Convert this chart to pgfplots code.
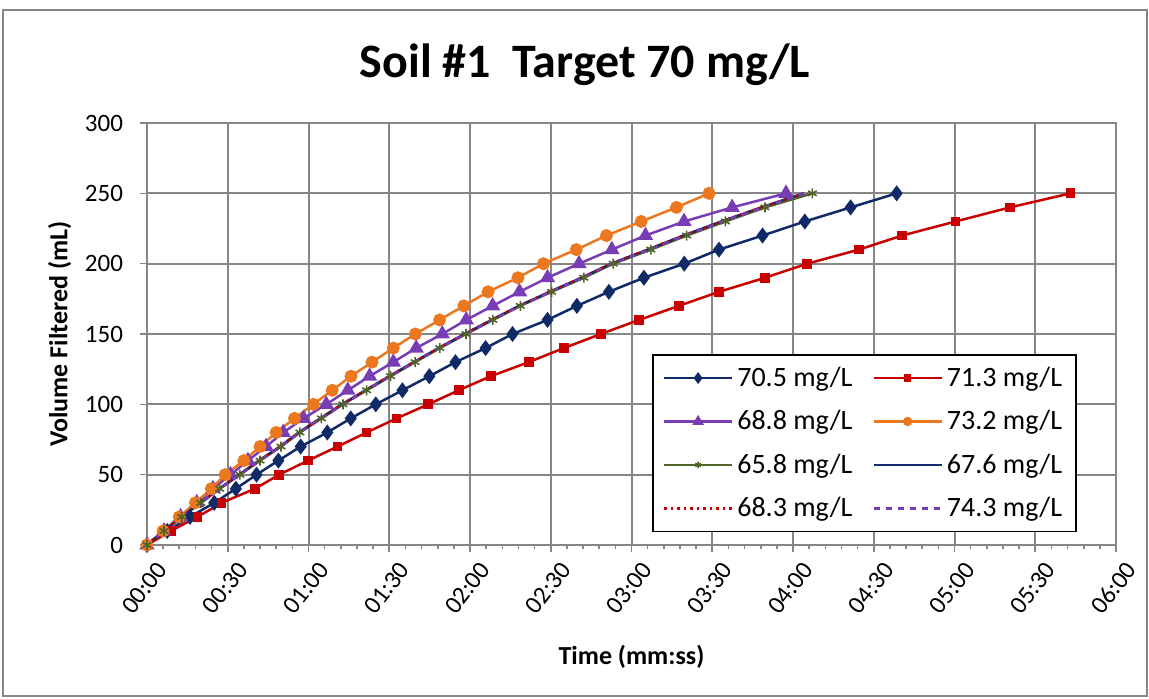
\documentclass[border=0pt]{standalone}
\usepackage{pgfplots}
\pgfplotsset{compat=1.18}
\usepackage{fontspec}
\setmainfont{Carlito}
\definecolor{cnavy}{RGB}{16,42,104}
\definecolor{cred}{RGB}{200,0,0}
\definecolor{cpurple}{RGB}{120,60,180}
\definecolor{corange}{RGB}{235,120,30}
\definecolor{cgreen}{RGB}{80,100,40}
\definecolor{cnavyb}{RGB}{20,45,110}
\definecolor{cgrid}{RGB}{134,134,134}
\begin{document}
\begin{tikzpicture}
\path (-73.5pt,-76.5pt) rectangle (501pt,272.5pt);
\draw[cgrid, line width=0.6pt] (-72pt,-75.5pt) rectangle (500pt,267.5pt);
\node[font=\fontsize{24}{28}\selectfont\bfseries] at (219pt,240pt) {Soil \#1\ \ Target 70 mg/L};
\begin{axis}[
  at={(0pt,0pt)}, anchor=south west,
  scale only axis, width=484.5pt, height=211pt,
  xmin=0, xmax=360, ymin=0, ymax=300,
  xtick={0,30,...,360},
  xticklabels={00:00,00:30,01:00,01:30,02:00,02:30,03:00,03:30,04:00,04:30,05:00,05:30,06:00},
  minor x tick num=4,
  ytick={0,50,...,300},
  grid=major,
  major grid style={cgrid, line width=1pt},
  axis line style={cgrid, line width=1pt},
  every tick/.style={cgrid, line width=0.8pt},
  tick align=outside,
  major tick length=3.5pt, minor tick length=2pt,
  xtick pos=bottom, ytick pos=left,
  /pgf/number format/assume math mode=true,
  tick label style={font=\fontsize{12.5}{14}\selectfont},
  xticklabel style={rotate=52, anchor=east, xshift=3pt, yshift=-10pt},
  yticklabel style={xshift=-5pt},
  xlabel={Time (mm:ss)},
  ylabel={Volume Filtered (mL)},
  label style={font=\fontsize{13}{15}\selectfont\bfseries},
  xlabel style={at={(axis description cs:0.5,-0.265)}, anchor=center},
  ylabel style={at={(axis description cs:-0.09,0.5)}, anchor=center, rotate=0},
  legend columns=2,
  legend style={at={(axis description cs:0.5212,0.4526)}, anchor=north west,
     draw=black, line width=0.8pt, fill=white,
     font=\fontsize{14}{16}\selectfont, row sep=6.5pt,
     inner xsep=5pt, inner ysep=4pt},
  legend cell align=left,
  /tikz/every even column/.append style={column sep=8pt},
  legend image code/.code={\draw[mark repeat=2,mark phase=2,#1,every mark/.append style={scale=0.65}] plot coordinates {(0pt,0pt) (17pt,0pt) (34pt,0pt)};},
]
\addplot[cnavy, line width=1.25pt, mark=diamond*, mark size=3pt] coordinates {
(0,0) (7.5,10) (16.0,20) (25.0,30) (33.0,40) (40.7,50) (48.8,60) (57.1,70) (67.0,80) (75.7,90)
(85.0,100) (94.9,110) (104.9,120) (114.6,130) (125.8,140) (135.8,150) (148.8,160) (159.7,170)
(171.6,180) (184.6,190) (199.6,200) (212.5,210) (228.7,220) (244.4,230) (261.4,240) (278.5,250)};
\addlegendentry{70.5 mg/L}
\addplot[cred, line width=1.25pt, mark=square*, mark size=1.8pt] coordinates {
(0,0) (8.8,10) (18.8,20) (27.7,30) (40.1,40) (49.1,50) (59.8,60) (70.8,70) (81.6,80) (92.7,90)
(104.5,100) (115.8,110) (127.7,120) (141.8,130) (154.9,140) (168.6,150) (182.8,160) (197.6,170)
(212.5,180) (229.6,190) (245.3,200) (264.5,210) (280.5,220) (300.4,230) (320.6,240) (343.1,250)};
\addlegendentry{71.3 mg/L}
\addplot[cpurple, line width=1.25pt, mark=triangle*, mark size=3.2pt] coordinates {
(0,0) (6.3,10) (12.5,20) (18.5,30) (24.5,40) (31.0,50) (37.5,60) (44.2,70) (50.6,80) (58.2,90)
(66.6,100) (74.6,110) (82.7,120) (91.5,130) (100.0,140) (109.7,150) (118.6,160) (128.4,170)
(138.4,180) (148.8,190) (160.5,200) (172.7,210) (185.2,220) (199.5,230) (217.4,240) (237.4,250)};
\addlegendentry{68.8 mg/L}
\addplot[corange, line width=1.25pt, mark=*, mark size=2.6pt] coordinates {
(0,0) (6.0,10) (12.0,20) (18.0,30) (23.9,40) (29.0,50) (36.0,60) (42.0,70) (48.0,80) (54.8,90)
(61.8,100) (68.8,110) (75.8,120) (83.6,130) (91.5,140) (99.7,150) (108.7,160) (117.7,170)
(126.7,180) (137.8,190) (147.3,200) (159.5,210) (170.7,220) (183.6,230) (196.7,240) (208.8,250)};
\addlegendentry{73.2 mg/L}
\addplot[cgreen, line width=1.25pt, mark=asterisk, mark size=2.5pt, mark options={line width=0.8pt}] coordinates {
(0,0) (6.3,10) (12.9,20) (20.0,30) (27.0,40) (34.5,50) (42.0,60) (49.8,70) (56.8,80) (64.8,90)
(72.8,100) (81.6,110) (90.5,120) (99.6,130) (108.8,140) (118.5,150) (128.5,160) (138.7,170)
(150.3,180) (162.3,190) (173.2,200) (187.2,210) (200.5,220) (214.9,230) (229.6,240) (247.2,250)};
\addlegendentry{65.8 mg/L}
\addplot[cnavyb, line width=1.25pt] coordinates {
(0,0) (6.2,10) (12.8,20) (19.8,30) (26.8,40) (34.2,50) (41.6,60) (49.4,70) (56.4,80) (64.4,90)
(72.4,100) (81.2,110) (90.0,120) (99.1,130) (108.3,140) (118.0,150) (128.0,160) (138.2,170)
(149.6,180) (161.4,190) (172.4,200) (186.0,210) (199.3,220) (213.4,230) (228.2,240) (244.0,250)};
\addlegendentry{67.6 mg/L}
\addplot[cred, line width=1.25pt, dotted] coordinates {
(0,0) (6.2,10) (12.8,20) (19.8,30) (26.8,40) (34.2,50) (41.6,60) (49.4,70) (56.4,80) (64.4,90)
(72.4,100) (81.2,110) (90.0,120) (99.1,130) (108.3,140) (118.0,150) (128.0,160) (138.2,170)
(149.6,180) (161.4,190) (172.4,200) (186.0,210) (199.3,220) (213.4,230) (228.2,240) (244.0,250)};
\addlegendentry{68.3 mg/L}
\addplot[cpurple, line width=1.25pt, dashed] coordinates {
(0,0) (6.3,10) (12.9,20) (20.0,30) (27.0,40) (34.5,50) (42.0,60) (49.7,70) (56.8,80) (64.8,90)
(72.8,100) (81.6,110) (90.4,120) (99.5,130) (108.7,140) (118.4,150) (128.4,160) (138.6,170)
(150.0,180) (161.8,190) (172.8,200) (186.5,210) (199.8,220) (213.9,230) (228.8,240) (244.2,250)};
\addlegendentry{74.3 mg/L}
\end{axis}
\end{tikzpicture}
\end{document}
